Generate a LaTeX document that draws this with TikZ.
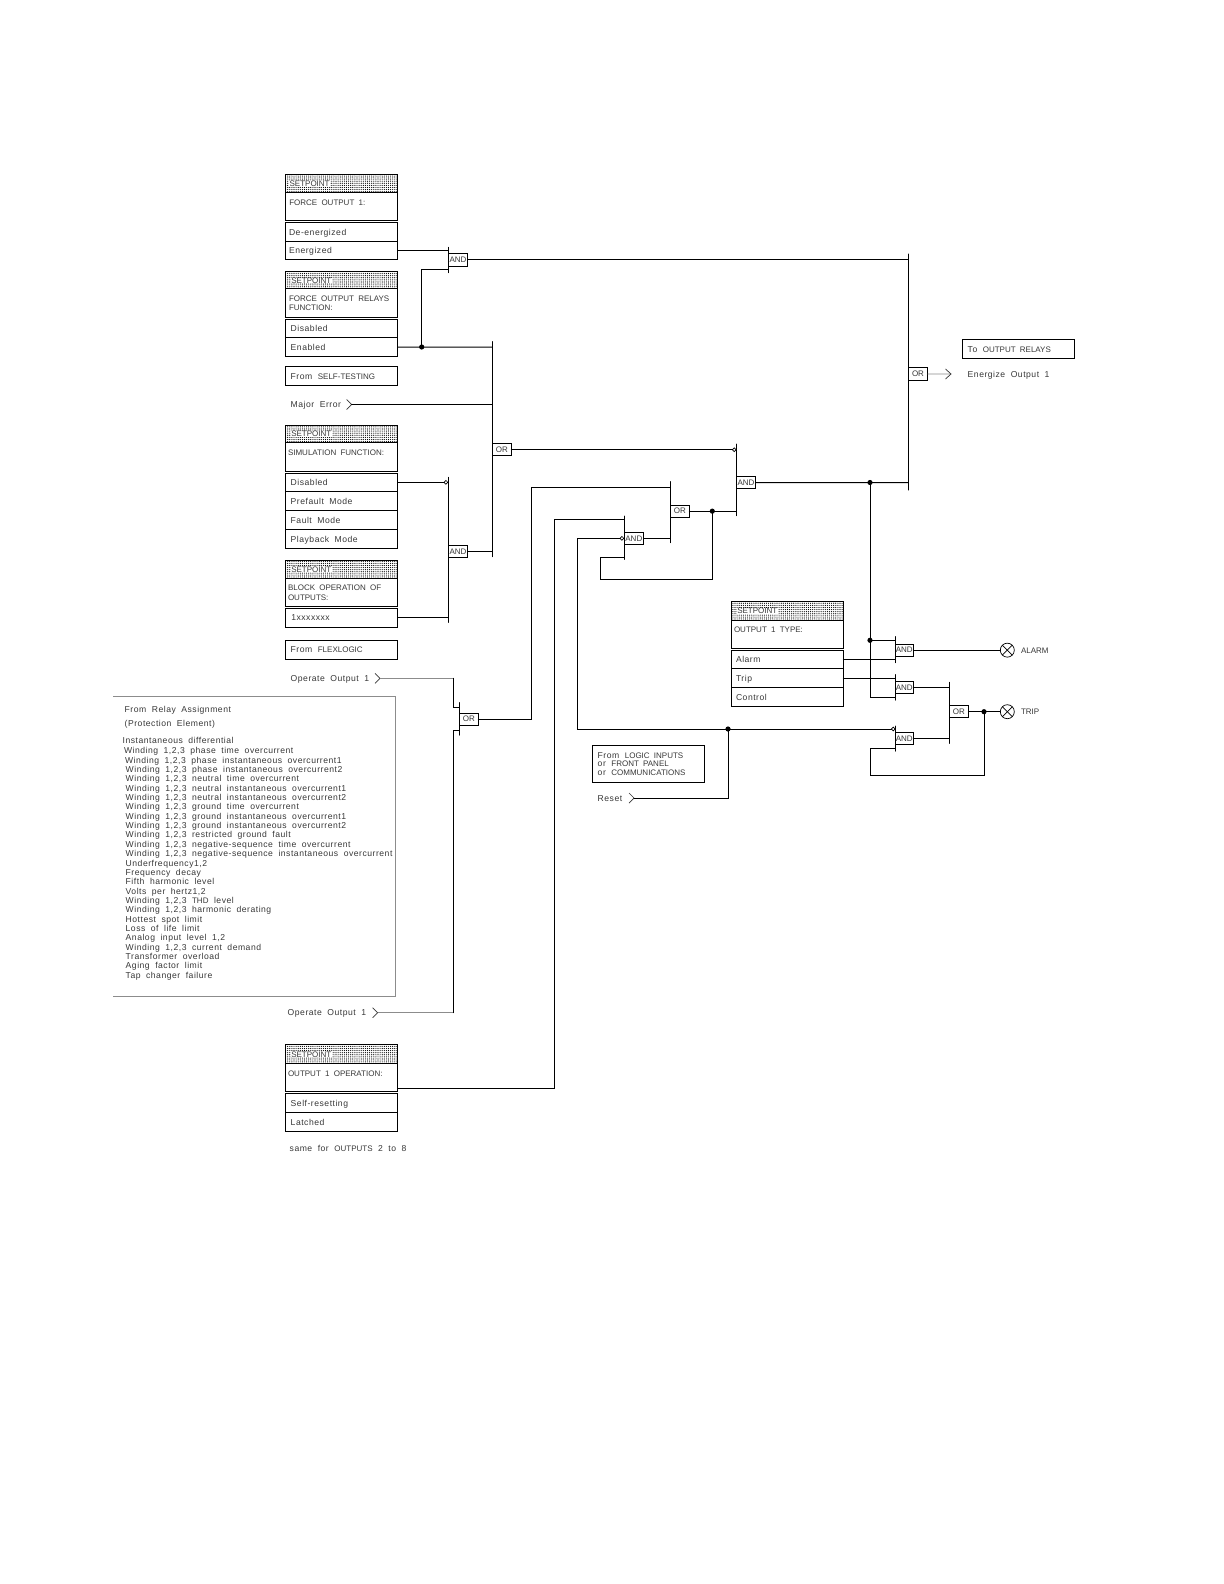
\documentclass[tikz,border=0pt]{standalone}
\usepackage{fontspec}
\setmainfont[LetterSpace=6,WordSpace=1.9]{Liberation Sans}
\newfontface\capface[LetterSpace=0,WordSpace=1.9]{Liberation Sans}
\newcommand{\uc}[1]{{\capface\fontsize{4pt}{5pt}\selectfont #1}}
\usetikzlibrary{patterns.meta}
\definecolor{ink}{gray}{0.22}
\definecolor{gwire}{gray}{0.55}
\tikzset{
  wire/.style={line width=0.5pt,line cap=round,line join=miter},
  gwired/.style={line width=0.45pt,color=gwire},
  labeltext/.style={anchor=base west,inner sep=0pt,outer sep=0pt,text=ink,font=\fontsize{4.3pt}{5pt}\selectfont},
  gatetext/.style={draw,line width=0.45pt,rectangle,inner sep=0pt,outer sep=0pt,fill=white,text=ink,font=\fontsize{4.3pt}{5pt}\selectfont},
  framebox/.style={draw,line width=0.5pt,rectangle,inner sep=0pt,outer sep=0pt,anchor=north west},
  hatchbox/.style={framebox,pattern={Dots[distance=1.05pt,radius=0.3pt]},pattern color=black},
  bubble/.style={draw,circle,line width=0.35pt,fill=white,inner sep=0pt,minimum size=1.9pt,outer sep=0pt},
  jdot/.style={fill=black,circle,inner sep=0pt,minimum size=2.6pt,outer sep=0pt},
  lamp/.style={draw,circle,line width=0.35pt,inner sep=0pt,minimum size=7pt,outer sep=0pt},
}
% \tbox[opts]{name}{x0}{y0}{x1}{y1}
\newcommand{\tbox}[6][]{%
  \pgfmathsetmacro\bw{(#5-#3)*0.5}\pgfmathsetmacro\bh{(#6-#4)*0.5}%
  \node[framebox,minimum width=\bw pt,minimum height=\bh pt,#1] (#2) at (#3,#4) {};}
% \txt{name}{x}{ymid}{text}
\newcommand{\txt}[4]{\node[labeltext] (#1) at (#2,#3+3.1) {#4};}
% header with SETPOINT word
\newcommand{\sphead}[6]{% name x0 y0 x1 y1 textx
  \tbox[hatchbox]{#1}{#2}{#3}{#4}{#5}%
  \node[labeltext,fill=white,inner xsep=0.3pt] (#1t) at (#6,#3*0.5+#5*0.5+3.1) {\uc{SETPOINT}};}
% \gate{name}{barx}{bary0}{bary1}{boxx1}{boxy0}{boxy1}{text}
\newcommand{\gate}[8]{%
  \draw[wire] (#2,#3) -- (#2,#4);
  \pgfmathsetmacro\bw{(#5-#2)*0.5}\pgfmathsetmacro\bh{(#7-#6)*0.5}%
  \node[gatetext,anchor=north west,minimum width=\bw pt,minimum height=\bh pt] (#1) at (#2,#6) {\uc{#8}};}
\newcommand{\chev}[3]{% name, tip x, y
  \coordinate (#1) at (#2,#3);
  \draw[line width=0.35pt,color=ink] (#2-5,#3-5) -- (#2,#3) -- (#2-5,#3+5);}
\begin{document}
\begin{tikzpicture}[x=0.5pt,y=-0.5pt]
\useasboundingbox (0,0) rectangle (1224,1584);
\fill[white] (0,0) rectangle (1224,1584);

% --- left column boxes ---
\sphead{h1}{285.3}{174}{397.7}{192.3}{289}
\tbox{t1}{285.3}{192.3}{397.7}{220.3}
\tbox{r1a}{285.3}{222.3}{397.7}{241}
\tbox{r1b}{285.3}{241}{397.7}{259.3}
\txt{x1a}{289.3}{202}{\uc{FORCE OUTPUT 1:}}
\txt{x1b}{289}{232}{De-energized}
\txt{x1c}{289}{250.7}{Energized}

\sphead{h2}{285.3}{271.7}{397.7}{288.3}{290.7}
\tbox{t2}{285.3}{288.3}{397.7}{317.3}
\tbox{r2a}{285.3}{319.3}{397.7}{337.7}
\tbox{r2b}{285.3}{337.7}{397.7}{356.3}
\txt{x2a}{289}{298.3}{\uc{FORCE OUTPUT RELAYS}}
\txt{x2b}{289}{307.7}{\uc{FUNCTION:}}
\txt{x2c}{290.7}{328.3}{Disabled}
\txt{x2d}{290.7}{347.3}{Enabled}

\tbox{st}{285.3}{366.3}{397.7}{385.3}
\txt{xst}{290.7}{376}{From \uc{SELF-TESTING}}
\txt{xme}{290.7}{404.7}{Major Error}
\chev{chme}{351.7}{404.5}

\sphead{h3}{285.3}{425}{397.7}{442.3}{290.7}
\tbox{t3}{285.3}{442.3}{397.7}{471.7}
\tbox{r3a}{285.3}{473.3}{397.7}{491.3}
\tbox{r3b}{285.3}{491.3}{397.7}{510.3}
\tbox{r3c}{285.3}{510.3}{397.7}{529.3}
\tbox{r3d}{285.3}{529.3}{397.7}{548.3}
\txt{x3a}{288}{452}{\uc{SIMULATION FUNCTION:}}
\txt{x3b}{290.7}{482.3}{Disabled}
\txt{x3c}{290.7}{501.3}{Prefault Mode}
\txt{x3d}{290.7}{520}{Fault Mode}
\txt{x3e}{290.7}{539}{Playback Mode}

\sphead{h4}{285.3}{560}{397.7}{578}{290.7}
\tbox{t4}{285.3}{578}{397.7}{606.3}
\tbox{r4a}{285.3}{608.3}{397.7}{627}
\txt{x4a}{288}{587.7}{\uc{BLOCK OPERATION OF}}
\txt{x4b}{288}{597}{\uc{OUTPUTS:}}
\txt{x4c}{291.3}{617.7}{1xxxxxxx}

\tbox{fl}{285.3}{640.7}{397.7}{659.3}
\txt{xfl}{290.7}{649.7}{From \uc{FLEXLOGIC}}
\txt{xop1}{290.7}{678.7}{Operate Output 1}
\chev{chop1}{380}{678.3}

% --- relay assignment panel (open at left) ---
\draw[line width=0.5pt,color=gwire] (113.3,696.7) -- (395.3,696.7) -- (395.3,996) -- (113.3,996);
\txt{p0}{124.7}{709.3}{From Relay Assignment}
\txt{p1}{124.7}{723}{(Protection Element)}
\txt{p2}{122.7}{740.7}{Instantaneous differential}
\txt{p3}{124}{750.3}{Winding 1,2,3 phase time overcurrent}
\txt{p4}{125}{760}{Winding 1,2,3 phase instantaneous overcurrent1}
\txt{p5}{125.7}{769}{Winding 1,2,3 phase instantaneous overcurrent2}
\txt{p6}{125.7}{778.3}{Winding 1,2,3 neutral time overcurrent}
\txt{p7}{125.7}{788}{Winding 1,2,3 neutral instantaneous overcurrent1}
\txt{p8}{125.7}{797.3}{Winding 1,2,3 neutral instantaneous overcurrent2}
\txt{p9}{125.7}{806.7}{Winding 1,2,3 ground time overcurrent}
\txt{p10}{125.7}{816}{Winding 1,2,3 ground instantaneous overcurrent1}
\txt{p11}{125.7}{825.3}{Winding 1,2,3 ground instantaneous overcurrent2}
\txt{p12}{125.7}{834.7}{Winding 1,2,3 restricted ground fault}
\txt{p13}{125.7}{844}{Winding 1,2,3 negative-sequence time overcurrent}
\txt{p14}{125.7}{853.7}{Winding 1,2,3 negative-sequence instantaneous overcurrent}
\txt{p15}{125.7}{863}{Underfrequency1,2}
\txt{p16}{125.7}{872.3}{Frequency decay}
\txt{p17}{125.7}{881.7}{Fifth harmonic level}
\txt{p18}{125.7}{891}{Volts per hertz1,2}
\txt{p19}{125.7}{900.3}{Winding 1,2,3 \uc{THD} level}
\txt{p20}{125.7}{909.7}{Winding 1,2,3 harmonic derating}
\txt{p21}{125.7}{919}{Hottest spot limit}
\txt{p22}{125.7}{928.7}{Loss of life limit}
\txt{p23}{125.7}{937.7}{Analog input level 1,2}
\txt{p24}{125.7}{947}{Winding 1,2,3 current demand}
\txt{p25}{125.7}{956.3}{Transformer overload}
\txt{p26}{125.7}{965.7}{Aging factor limit}
\txt{p27}{125.7}{975.3}{Tap changer failure}

\txt{xop2}{287.7}{1012.7}{Operate Output 1}
\chev{chop2}{377.7}{1012.7}

\sphead{h6}{285.3}{1044.7}{397.7}{1063.3}{290.7}
\tbox{t6}{285.3}{1063.3}{397.7}{1091.7}
\tbox{r6a}{285.3}{1093.7}{397.7}{1112.3}
\tbox{r6b}{285.3}{1112.3}{397.7}{1131.3}
\txt{x6a}{288}{1073.7}{\uc{OUTPUT 1 OPERATION:}}
\txt{x6b}{290.7}{1103.3}{Self-resetting}
\txt{x6c}{290.7}{1122}{Latched}
\txt{x6d}{289.7}{1148.7}{same for \uc{OUTPUTS} 2 to 8}

% --- output type box ---
\sphead{h5}{731.3}{601.3}{843.3}{620.3}{736.7}
\tbox{t5}{731.3}{620.3}{843.3}{648.7}
\tbox{r5a}{731.3}{650.3}{843.3}{668.7}
\tbox{r5b}{731.3}{668.7}{843.3}{687.7}
\tbox{r5c}{731.3}{687.7}{843.3}{706.3}
\txt{x5a}{734}{629.3}{\uc{OUTPUT 1 TYPE:}}
\txt{x5b}{736}{659.3}{Alarm}
\txt{x5c}{736}{678.3}{Trip}
\txt{x5d}{736}{697}{Control}

% --- logic inputs ---
\tbox{li}{592.3}{745.3}{704.7}{782.3}
\txt{xl1}{597.7}{755}{From \uc{LOGIC INPUTS}}
\txt{xl2}{597.7}{763.7}{or \uc{FRONT PANEL}}
\txt{xl3}{597.7}{772.7}{or \uc{COMMUNICATIONS}}
\txt{xrs}{597.7}{798.3}{Reset}
\chev{chrs}{634}{798}

% --- to output relays ---
\tbox{to}{962.3}{339.3}{1074.7}{358.3}
\txt{xto}{967.7}{349}{To \uc{OUTPUT RELAYS}}
\txt{xen}{967.7}{374}{Energize Output 1}

% --- gates ---
\gate{gA}{448.3}{247.3}{272.7}{467.7}{253.3}{266.3}{AND}
\gate{gO1}{492.3}{341.7}{556.7}{511.3}{443.7}{455.7}{OR}
\gate{gB}{448.3}{477.3}{622.3}{467.7}{545.7}{557.3}{AND}
\gate{gO2}{459.3}{702.7}{735}{478.3}{713.3}{725}{OR}
\gate{gC}{624}{516}{559.3}{643.7}{532.3}{544.3}{AND}
\gate{gO3}{670.3}{481.7}{542.7}{689.3}{505}{517.3}{OR}
\gate{gD}{736.3}{444}{515.7}{755.7}{476.3}{488.7}{AND}
\gate{gO4}{908.3}{254}{490}{927.7}{367.7}{380.3}{OR}
\gate{gE}{895.3}{636.7}{662.7}{913.3}{644}{656.3}{AND}
\gate{gF}{895.3}{674.7}{700}{913.3}{681.3}{693.7}{AND}
\gate{gG}{895.3}{726}{751}{913.3}{732.3}{744.7}{AND}
\gate{gO5}{949.3}{682.3}{743.3}{968.5}{705.7}{717.7}{OR}

% --- junction points, bubbles, lamps ---
\node[jdot] (d1) at (421.7,347) {};
\node[jdot] (d2) at (712.3,511.15) {};
\node[jdot] (d3) at (870,482.5) {};
\node[jdot] (d4) at (870,640.3) {};
\node[jdot] (d5) at (728,729) {};
\node[jdot] (d6) at (984,711.7) {};
\node[bubble] (b1) at (445.9,482.3) {};
\node[bubble] (b2) at (734.2,449.7) {};
\node[bubble] (b3) at (621.9,538.3) {};
\node[bubble] (b4) at (893.2,729) {};
\node[lamp] (lA) at (1007.3,650.15) {};
\node[lamp] (lT) at (1007.3,711.7) {};
\foreach \l in {lA,lT}{
  \draw[line width=0.35pt] (\l.45) -- (\l.225);
  \draw[line width=0.35pt] (\l.135) -- (\l.315);
}
\txt{xal}{1021}{650}{\uc{ALARM}}
\txt{xtr}{1021}{711.7}{\uc{TRIP}}

% --- connectors ---
\coordinate (a1) at (421.7,269);
\draw[wire] (r1b.east) -- (gA.west |- r1b.east);
\draw[wire] (d1.center) |- (gA.west |- a1);
\draw[wire] (r2b.east) -- (d1.center) -- (gO1.west |- d1.center);
\draw[wire] (chme) -- (gO1.west |- chme);
\draw[wire] (gA.east) -- (gO4.west |- gA.east);
\draw[wire] (gO1.east) -- (b2.west);
\draw[wire] (r3a.east) -- (b1.west);
\draw[wire] (gB.east) -- (gO1.west |- gB.east);
\draw[wire] (r4a.east) -- (gB.west |- r4a.east);

\coordinate (o2j) at (453.7,678.3);
\coordinate (o2k) at (453.7,707.3);
\coordinate (o2l) at (453.7,730);
\coordinate (o2m) at (453.7,1012.7);
\draw[gwired] (chop1) -- (o2j);
\draw[wire] (o2j) -- (o2k) -- (gO2.west |- o2k);
\draw[gwired] (chop2) -- (o2m);
\draw[wire] (o2m) -- (o2l) -- (gO2.west |- o2l);

\coordinate (c1) at (531,487.3);
\draw[wire] (gO2.east) -| (c1) -- (gO3.west |- c1);
\coordinate (c2) at (554.3,519.3);
\coordinate (c3) at (397.7,1088.3);
\draw[wire] (c3) -| (c2) -- (gC.west |- c2);
\coordinate (c4) at (577.3,538.3);
\draw[wire] (b3.west) -- (c4) |- (b4.west);
\draw[wire] (chrs) -| (d5.center);
\draw[wire] (gC.east) -- (gO3.west |- gC.east);
\draw[wire] (gO3.east) -- (d2.center) -- (gD.west |- d2.center);
\coordinate (c5) at (624,557.3);
\coordinate (c6) at (600.3,579.3);
\draw[wire] (d2.center) |- (c6) |- (c5);
\draw[wire] (gD.east) -- (d3.center) -- (gO4.west |- d3.center);

\coordinate (e1) at (895.3,697.3);
\draw[wire] (d3.center) -- (d4.center) |- (e1);
\draw[wire] (d4.center) -- (gE.west |- d4.center);
\draw[wire] (r5a.east) -- (gE.west |- r5a.east);
\draw[wire] (r5b.east) -- (gF.west |- r5b.east);
\draw[wire] (gE.east) -- (lA.west);
\draw[wire] (gF.east) -- (gO5.west |- gF.east);
\draw[wire] (gG.east) -- (gO5.west |- gG.east);
\draw[wire] (gO5.east) -- (d6.center) -- (lT.west);
\coordinate (e2) at (895.3,748.3);
\coordinate (e3) at (870.3,775.3);
\draw[wire] (e2) -| (e3) -| (d6.center);

\draw[gwired] (gO4.east) -- (951,374) coordinate (t1);
\draw[line width=0.35pt,color=ink] (945.5,369) -- (t1) -- (945.5,379);
\end{tikzpicture}
\end{document}
